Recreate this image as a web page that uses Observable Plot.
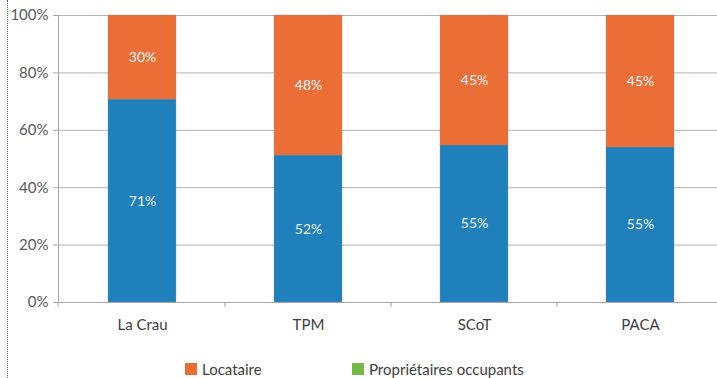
<!DOCTYPE html>
<html>
<head>
<meta charset="utf-8">
<script src="https://cdn.jsdelivr.net/npm/d3@7"></script>
<script src="https://cdn.jsdelivr.net/npm/@observablehq/plot@0.6"></script>
<style>
  body { margin: 0; background: #fff; font-family: Lato, "Open Sans", sans-serif; }
  #wrap { position: relative; width: 717px; height: 378px; overflow: hidden; }
  #dots { position: absolute; left: 7px; top: 0; height: 378px; border-left: 1.5px dotted #555; }
  .leg { position: absolute; top: 360px; font-size: 15px; color: #404040; display: flex; align-items: center; white-space: nowrap; }
  .sw { width: 12px; height: 12px; margin-right: 5px; display: inline-block; }
</style>
</head>
<body>
<div id="wrap">
  <div id="dots"></div>
  <div id="chart"></div>
  <div id="legend"></div>
</div>
<script>
const categories = ["La Crau", "TPM", "SCoT", "PACA"];
const proprietaires = [70.7, 51.2, 54.7, 54.0];
const locataires = [29.3, 48.8, 45.3, 46.0];
const labelsProprietaires = ["71%", "52%", "55%", "55%"];
const labelsLocataires = ["30%", "48%", "45%", "45%"];
const yTicks = [0, 20, 40, 60, 80, 100];
const legendItems = ["Locataire", "Propriétaires occupants"];

const colors = {prop: "#1f80bb", loc: "#eb6e37", legendProp: "#76b84a"};

const data = [
  ...categories.map((c, i) => ({cat: c, series: "prop", value: proprietaires[i], label: labelsProprietaires[i]})),
  ...categories.map((c, i) => ({cat: c, series: "loc", value: locataires[i], label: labelsLocataires[i]}))
];

const chart = Plot.plot({
  width: 717,
  height: 350,
  marginLeft: 58,
  marginRight: 0,
  marginTop: 15,
  marginBottom: 48,
  style: {fontFamily: "Lato, 'Open Sans', sans-serif", fontSize: "14px", color: "#595959", background: "transparent"},
  x: {domain: categories, range: [58, 724], paddingInner: 0.59, paddingOuter: 0.295, label: null},
  y: {domain: [0, 100], label: null},
  color: {domain: ["prop", "loc"], range: [colors.prop, colors.loc]},
  marks: [
    Plot.ruleY(yTicks.slice(1), {y: d => d, stroke: "#b4b4b4", strokeWidth: 1}),
    Plot.barY(data, {x: "cat", y: "value", fill: "series", stroke: "#8a8a8a", strokeOpacity: 0.35, strokeWidth: 1}),
    Plot.text(data, Plot.stackY({x: "cat", y: "value", text: "label", fill: "#eef3f8", fontSize: 14})),
    Plot.ruleY([0], {stroke: "#a6a6a6"}),
    Plot.frame({anchor: "left", stroke: "#a6a6a6"}),
    Plot.axisY({ticks: yTicks, tickFormat: d => d + "%", tickSize: 5, tickPadding: 5, stroke: "#a6a6a6", fill: "#595959", fontSize: 15, label: null}),
    Plot.axisX({tickSize: 0, tickPadding: 17, fill: "#404040", fontSize: 15, label: null})
  ]
});
document.getElementById("chart").appendChild(chart);

// category boundary ticks on the x baseline, positioned from the Plot scales
const xs = chart.scale("x");
const ys = chart.scale("y");
const base = ys.apply(0);
const boundaries = [xs.range[0], ...categories.slice(0, -1).map(c => xs.apply(c) + xs.bandwidth + (xs.step - xs.bandwidth) / 2)];
d3.select(chart).append("g")
  .selectAll("line").data(boundaries).join("line")
  .attr("x1", d => d).attr("x2", d => d)
  .attr("y1", base).attr("y2", base + 5)
  .attr("stroke", "#a6a6a6");

// legend below the chart
const legend = document.getElementById("legend");
const legendColors = [colors.loc, colors.legendProp];
const legendLefts = [185, 352];
legendItems.forEach((name, i) => {
  const el = document.createElement("div");
  el.className = "leg";
  el.style.left = legendLefts[i] + "px";
  el.innerHTML = `<span class="sw" style="background:${legendColors[i]}"></span><span>${name}</span>`;
  legend.appendChild(el);
});
</script>
</body>
</html>
